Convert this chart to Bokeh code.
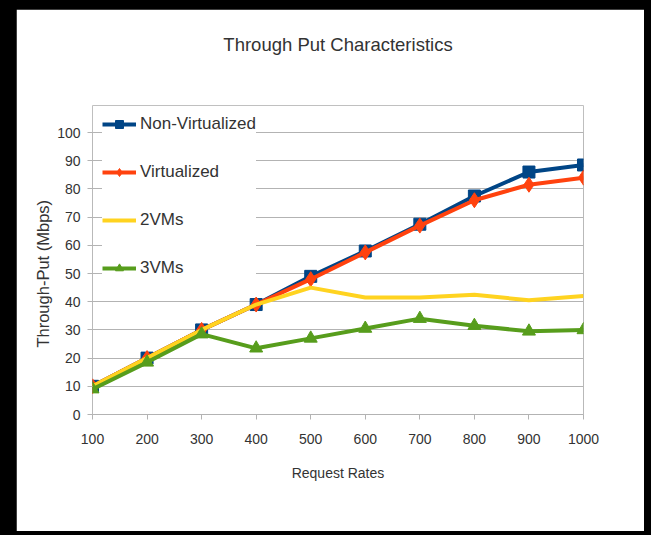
from bokeh.plotting import figure
from bokeh.models import Range1d, Legend, LegendItem, FixedTicker, Title
from bokeh.layouts import column
from bokeh.embed import file_html
from bokeh.resources import INLINE

request_rates = [100, 200, 300, 400, 500, 600, 700, 800, 900, 1000]
non_virtualized = [10, 20, 30, 39, 49, 58, 67.5, 77.5, 86, 88.5]
virtualized = [10, 20, 30, 39, 48, 57.5, 67, 76, 81.5, 84]
vms2 = [10, 20, 30, 39, 45, 41.5, 41.5, 42.5, 40.5, 42]
vms3 = [9, 18.5, 28.5, 23.5, 27, 30.5, 34, 31.5, 29.5, 30]
y_ticks = [0, 10, 20, 30, 40, 50, 60, 70, 80, 90, 100]

FONT = "Liberation Sans"
TXT = "#333333"
GRID = "#b3b3b3"

p = figure(width=628, height=522, output_backend="svg", toolbar_location=None,
           x_range=Range1d(100, 1000), y_range=Range1d(0, 109.6),
           min_border_left=76, min_border_right=61, min_border_top=96, min_border_bottom=117,
           background_fill_color="white", border_fill_color="white")
p.outline_line_color = None

# spacer panel between the frame and the title
spacer = Title(text=" ", text_font=FONT, text_font_size="14px", standoff=32)
p.add_layout(spacer, "above")
t = Title(text="Through Put Characteristics", text_font=FONT, text_font_size="18.5px",
          text_font_style="normal", text_color=TXT, align="center", standoff=2, offset=6)
p.add_layout(t, "above")

p.xaxis.ticker = FixedTicker(ticks=request_rates)
p.yaxis.ticker = FixedTicker(ticks=y_ticks)
for ax in (p.xaxis[0], p.yaxis[0]):
    ax.axis_line_color = GRID
    ax.major_tick_line_color = GRID
    ax.major_tick_out = 5
    ax.major_tick_in = 0
    ax.minor_tick_line_color = None
    ax.major_label_text_font = FONT
    ax.major_label_text_font_size = "14px"
    ax.major_label_text_color = TXT
    ax.axis_label_text_color = TXT
    ax.axis_label_text_font_style = "normal"
    ax.axis_label_text_font = FONT
p.yaxis.axis_line_color = None
p.xaxis.axis_label = "Request Rates"
p.xaxis.axis_label_text_font_size = "14px"
p.xaxis.major_label_standoff = 14
p.xaxis.axis_label_standoff = 18
# trailing no-break spaces shift the label's centre down to the 0..100 span
p.yaxis.axis_label = "Through-Put (Mbps)" + "\u00a0" * 6
p.yaxis.axis_label_text_font_size = "16.5px"
p.yaxis.major_label_standoff = 7
p.yaxis.axis_label_standoff = 2

p.xgrid.grid_line_color = None
p.ygrid.grid_line_color = GRID
p.ygrid.grid_line_width = 1

# y-axis line and right wall, spanning the tick range only
p.segment(x0=[request_rates[0], request_rates[-1]], y0=[y_ticks[0]] * 2,
          x1=[request_rates[0], request_rates[-1]], y1=[y_ticks[-1]] * 2,
          line_color=GRID, line_width=1)

blue = "#004586"
red = "#ff420e"
yellow = "#ffd320"
green = "#579d1c"

l1 = p.line(request_rates, non_virtualized, line_color=blue, line_width=4)
s1 = p.scatter(request_rates, non_virtualized, marker="square", size=12, color=blue)
l2 = p.line(request_rates, virtualized, line_color=red, line_width=4)
s2 = p.scatter(request_rates, virtualized, marker="diamond", size=15, color=red)
l3 = p.line(request_rates, vms2, line_color=yellow, line_width=4)
l4 = p.line(request_rates, vms3, line_color=green, line_width=4)
s4 = p.scatter(request_rates, vms3, marker="triangle", size=13, color=green)

legend = Legend(items=[
    LegendItem(label="Non-Virtualized", renderers=[l1, s1]),
    LegendItem(label="Virtualized", renderers=[l2, s2]),
    LegendItem(label="2VMs", renderers=[l3]),
    LegendItem(label="3VMs", renderers=[l4, s4]),
], location=(10, 136))
legend.label_text_font = FONT
legend.label_text_font_size = "17px"
legend.label_text_color = TXT
legend.glyph_width = 34
legend.glyph_height = 20
legend.label_height = 20
legend.spacing = 28
legend.padding = 5
legend.margin = 0
legend.label_standoff = 4
legend.border_line_color = None
legend.background_fill_color = "white"
legend.background_fill_alpha = 1.0
p.add_layout(legend)

layout = column(p, styles={"background-color": "black", "padding": "9px 7px 4px 16px"})

open("out.html", "w").write(file_html(layout, INLINE))
